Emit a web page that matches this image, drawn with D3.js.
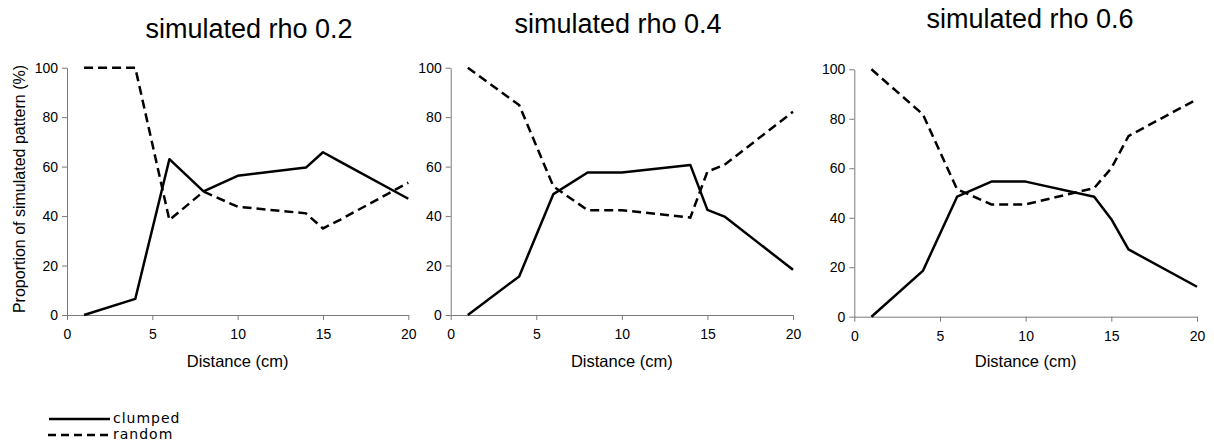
<!DOCTYPE html>
<html>
<head>
<meta charset="utf-8">
<script src="https://cdn.jsdelivr.net/npm/d3@7"></script>
<style>
  html, body { margin: 0; padding: 0; background: #fff; }
  svg { display: block; }
</style>
</head>
<body>
<svg id="chart" width="1214" height="443"></svg>
<script>
// ---- data ----
const distance = [1, 4, 6, 8, 10, 14, 15, 16, 20];
const titles = ["simulated rho 0.2", "simulated rho 0.4", "simulated rho 0.6"];
const clumped02 = [0, 6.5, 63, 50, 56.3, 59.6, 65.8, 62, 47];
const random02  = [100, 100, 38.4, 49.9, 43.8, 41.1, 35, 38.5, 53.5];
const clumped04 = [0, 15.6, 48.9, 57.6, 57.6, 60.7, 42.5, 39.8, 18.3];
const random04  = [100, 84.9, 52, 42.4, 42.4, 39.4, 58, 60.7, 82.2];
const clumped06 = [0, 18.5, 48.5, 54.6, 54.6, 48.5, 39.4, 27.2, 12.1];
const random06  = [100, 81.8, 51.5, 45.4, 45.4, 52, 60, 73, 87.9];
const xTicks = [0, 5, 10, 15, 20];
const yTicks = [0, 20, 40, 60, 80, 100];
const xLabel = "Distance (cm)";
const yLabel = "Proportion of simulated pattern (%)";
const legendLabels = ["clumped", "random"];

// ---- layout ----
const panels = [
  { title: titles[0], clumped: clumped02, random: random02, x0: 67,    x1: 408.3, yTop: 67.7, yBot: 315,   tx: 249,  ty: 38 },
  { title: titles[1], clumped: clumped04, random: random04, x0: 450.7, x1: 793,   yTop: 67.7, yBot: 315,   tx: 618,  ty: 33 },
  { title: titles[2], clumped: clumped06, random: random06, x0: 854.3, x1: 1197,  yTop: 69.3, yBot: 316.7, tx: 1030, ty: 28 }
];

const svg = d3.select("#chart");
const axisColor = "#7a7a7a";
const dash = "9,5";
const sans = "'Liberation Sans', Arial, sans-serif";

panels.forEach((p, i) => {
  const x = d3.scaleLinear().domain([0, 20]).range([p.x0, p.x1]);
  const y = d3.scaleLinear().domain([0, 100]).range([p.yBot, p.yTop]);
  const g = svg.append("g");

  // axes
  const xa = g.append("g").attr("transform", `translate(0,${p.yBot})`)
    .call(d3.axisBottom(x).tickValues(xTicks).tickSize(5).tickPadding(9).tickSizeOuter(0));
  const ya = g.append("g").attr("transform", `translate(${p.x0},0)`)
    .call(d3.axisLeft(y).tickValues(yTicks).tickSize(5).tickPadding(4).tickSizeOuter(0));
  [xa, ya].forEach(a => {
    a.select(".domain").attr("stroke", axisColor).attr("stroke-width", 1);
    a.selectAll(".tick line").attr("stroke", axisColor).attr("stroke-width", 1);
    a.selectAll(".tick text").attr("fill", "#000")
      .style("font-family", sans).style("font-size", "14px");
  });

  const line = d3.line().x((d, j) => x(distance[j])).y(d => y(d));
  g.append("path").datum(p.random).attr("d", line)
    .attr("fill", "none").attr("stroke", "#000").attr("stroke-width", 2.5)
    .attr("stroke-dasharray", dash);
  g.append("path").datum(p.clumped).attr("d", line)
    .attr("fill", "none").attr("stroke", "#000").attr("stroke-width", 2.5)
    .attr("stroke-linejoin", "round");

  // title
  g.append("text").attr("x", p.tx).attr("y", p.ty).attr("text-anchor", "middle")
    .style("font-family", sans).style("font-size", "27px")
    .text(p.title);

  // x label
  g.append("text").attr("x", (p.x0 + p.x1) / 2).attr("y", 367).attr("text-anchor", "middle")
    .style("font-family", sans).style("font-size", "16.5px")
    .text(xLabel);

  if (i === 0) {
    g.append("text").attr("transform", `translate(25,189) rotate(-90)`).attr("text-anchor", "middle")
      .style("font-family", sans).style("font-size", "16px")
      .text(yLabel);
  }
});

// legend
const leg = svg.append("g");
leg.append("line").attr("x1", 49).attr("x2", 110).attr("y1", 419).attr("y2", 419)
  .attr("stroke", "#000").attr("stroke-width", 2.5);
leg.append("line").attr("x1", 48).attr("x2", 110).attr("y1", 435).attr("y2", 435)
  .attr("stroke", "#000").attr("stroke-width", 2.5).attr("stroke-dasharray", "8,5");
leg.append("text").attr("x", 113).attr("y", 423)
  .style("font-family", "'DejaVu Sans', sans-serif").style("font-size", "14px")
  .style("letter-spacing", "1px")
  .text(legendLabels[0]);
leg.append("text").attr("x", 113).attr("y", 439)
  .style("font-family", "'DejaVu Sans', sans-serif").style("font-size", "14px")
  .style("letter-spacing", "1px")
  .text(legendLabels[1]);
</script>
</body>
</html>
